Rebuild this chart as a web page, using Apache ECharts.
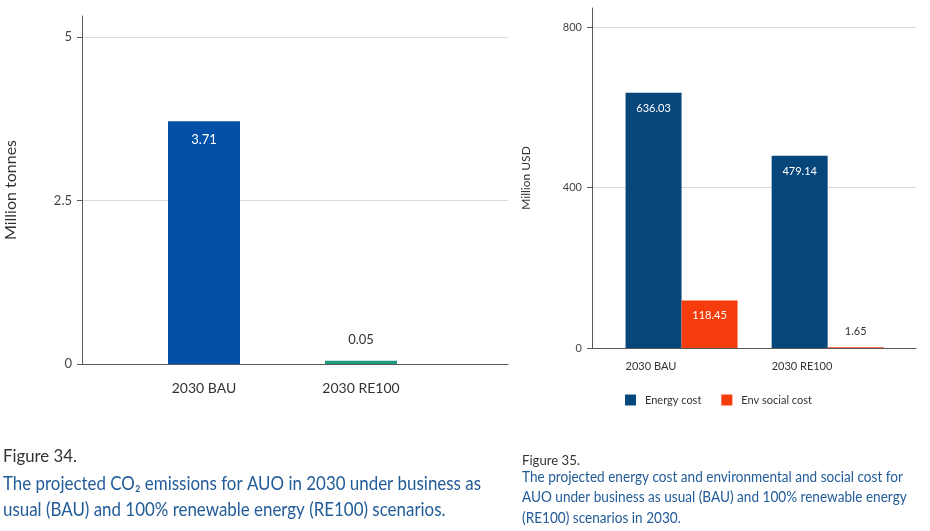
<!DOCTYPE html>
<html><head><meta charset="utf-8">
<script src="https://cdn.jsdelivr.net/npm/echarts@6/dist/echarts.min.js"></script>
<style>html,body{margin:0;padding:0;background:#fff}#c{width:930px;height:531px}</style>
</head><body><div id="c"></div>
<script>
const leftCategories = ['2030 BAU', '2030 RE100'];
const co2Values = [3.71, 0.05];
const co2Colors = ['#0350a9', '#1f9b80'];
const leftTickInterval = 2.5;
const leftTickMax = 5;
const leftAxisTop = 5.32;

const rightCategories = ['2030 BAU', '2030 RE100'];
const energyCost = [636.03, 479.14];
const envSocialCost = [118.45, 1.65];
const rightSeriesNames = ['Energy cost', 'Env social cost'];
const rightTickInterval = 400;
const rightTickMax = 800;
const rightAxisTop = 847;

const leftCaption = ['Figure 34.', 'The projected CO₂ emissions for AUO in 2030 under business as', 'usual (BAU) and 100% renewable energy (RE100) scenarios.'];
const rightCaption = ['Figure 35.', 'The projected energy cost and environmental and social cost for', 'AUO under business as usual (BAU) and 100% renewable energy', '(RE100) scenarios in 2030.'];

const FONT = 'Lato, "Open Sans", sans-serif';
const chart = echarts.init(document.getElementById('c'));
const axisCol = '#5a5a5a', gridCol = '#dadada', txt = '#333', capBlue = '#225c99';

const ctx = document.createElement('canvas').getContext('2d');
function measure(text, size) { ctx.font = size + 'px ' + FONT; return ctx.measureText(text).width; }
const lScale = 478 / measure(leftCaption[1], 19);
const rScale = 381 / measure(rightCaption[1], 14.5);
const lFigScale = 74 / measure(leftCaption[0], 17);
const rFigScale = 58 / measure(rightCaption[0], 13.5);
function capScaled(text, x, y, size, fill, s) {
  return {type: 'text', x: x, y: y, scaleX: s, style: {text: text, fontSize: size, fill: fill, fontFamily: FONT, verticalAlign: 'top'}};
}

chart.setOption({
  animation: false,
  textStyle: {fontFamily: FONT},
  grid: [
    {left: 82, right: 422, top: 37, bottom: 167},
    {left: 125.5, right: 490.5, top: 16, bottom: 167},
    {left: 592, right: 14, top: 27, bottom: 183},
    {left: 608.5, right: 29.3, top: 8, bottom: 183}
  ],
  xAxis: [
    {gridIndex: 0, type: 'value', min: 0, max: 1, axisLine: {show: true, onZero: false, lineStyle: {color: axisCol}}, axisTick: {show: false}, axisLabel: {show: false}, splitLine: {show: false}},
    {gridIndex: 1, type: 'category', data: leftCategories, axisLine: {show: false}, axisTick: {show: false},
      axisLabel: {color: txt, fontSize: 14, margin: 17, fontFamily: FONT}},
    {gridIndex: 2, type: 'value', min: 0, max: 1, axisLine: {show: true, onZero: false, lineStyle: {color: axisCol}}, axisTick: {show: false}, axisLabel: {show: false}, splitLine: {show: false}},
    {gridIndex: 3, type: 'category', data: rightCategories, axisLine: {show: false}, axisTick: {show: false},
      axisLabel: {color: txt, fontSize: 11, margin: 13, fontFamily: FONT, formatter: v => '{a|' + v + '}', rich: {a: {width: 112, align: 'left', fontSize: 11, color: txt}}}}
  ],
  yAxis: [
    {gridIndex: 0, type: 'value', min: 0, max: leftTickMax, interval: leftTickInterval, axisLine: {show: false},
      axisTick: {show: true, length: 5, lineStyle: {color: axisCol}},
      axisLabel: {color: '#444', fontSize: 13, margin: 10},
      splitLine: {show: true, lineStyle: {color: gridCol}}},
    {gridIndex: 1, type: 'value', min: 0, max: leftAxisTop, offset: 43.5,
      axisLine: {show: true, lineStyle: {color: axisCol}}, axisTick: {show: false}, axisLabel: {show: false}, splitLine: {show: false},
      name: 'Million tonnes', nameLocation: 'middle', nameGap: 63, nameTextStyle: {fontSize: 16, color: txt, fontFamily: FONT}},
    {gridIndex: 2, type: 'value', min: 0, max: rightTickMax, interval: rightTickInterval, axisLine: {show: false},
      axisTick: {show: true, length: 5, lineStyle: {color: axisCol}},
      axisLabel: {color: '#444', fontSize: 11, margin: 10},
      splitLine: {show: true, lineStyle: {color: gridCol}}},
    {gridIndex: 3, type: 'value', min: 0, max: rightAxisTop, offset: 16.5,
      axisLine: {show: true, lineStyle: {color: axisCol}}, axisTick: {show: false}, axisLabel: {show: false}, splitLine: {show: false},
      name: 'Million USD', nameLocation: 'middle', nameGap: 60, nameTextStyle: {fontSize: 12, color: txt, fontFamily: FONT}}
  ],
  legend: {
    left: 625, top: 394.5, padding: 0, itemWidth: 11, itemHeight: 11, itemGap: 20, icon: 'rect',
    data: rightSeriesNames,
    textStyle: {fontSize: 11, color: txt, fontFamily: FONT, padding: [0, 0, 0, 4]}
  },
  series: [
    {type: 'bar', xAxisIndex: 1, yAxisIndex: 1, barWidth: 72,
      data: co2Values.map((v, i) => ({value: v, itemStyle: {color: co2Colors[i]},
        label: i === 0 ? {show: true, position: 'insideTop', distance: 12, color: '#fff', fontSize: 13}
                       : {show: true, position: 'top', distance: 14, color: txt, fontSize: 13}}))},
    {type: 'bar', name: rightSeriesNames[0], xAxisIndex: 3, yAxisIndex: 3, barWidth: 56, barGap: '0%',
      itemStyle: {color: '#07467a'},
      label: {show: true, position: 'insideTop', distance: 10, color: '#fff', fontSize: 11},
      data: energyCost},
    {type: 'bar', name: rightSeriesNames[1], xAxisIndex: 3, yAxisIndex: 3, barWidth: 56, barGap: '0%',
      itemStyle: {color: '#f53c0c'},
      label: {show: true, position: 'insideTop', distance: 10, color: '#fff', fontSize: 11},
      data: envSocialCost.map(v => v < 20 ? {value: v, label: {position: 'top', distance: 10, color: txt}} : v)}
  ],
  graphic: [
    capScaled(leftCaption[0], 3, 448, 17, txt, lFigScale),
    capScaled(leftCaption[1], 3, 474, 19, capBlue, lScale),
    capScaled(leftCaption[2], 3, 500, 19, capBlue, lScale),
    capScaled(rightCaption[0], 522, 454, 13.5, txt, rFigScale),
    capScaled(rightCaption[1], 522, 470, 14.5, capBlue, rScale),
    capScaled(rightCaption[2], 522, 490, 14.5, capBlue, rScale),
    capScaled(rightCaption[3], 522, 511, 14.5, capBlue, rScale)
  ]
});
</script></body></html>
